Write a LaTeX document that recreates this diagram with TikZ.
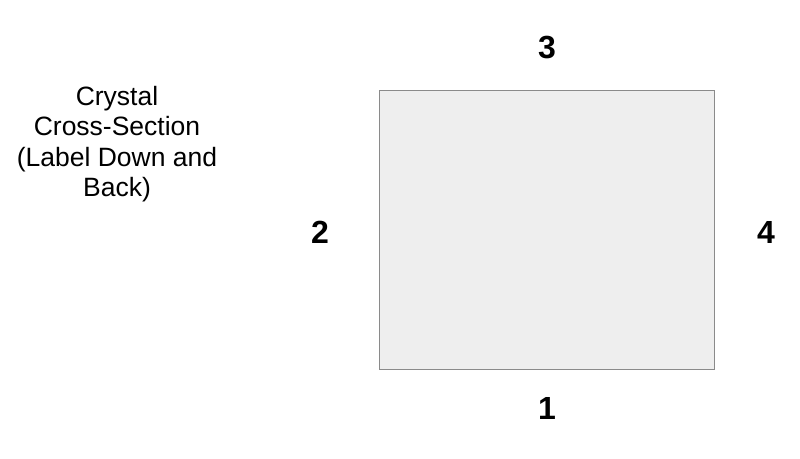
\documentclass[tikz,border=0pt]{standalone}
\usepackage{fontspec}
\setmainfont{Liberation Sans}
\definecolor{crossfill}{HTML}{EEEEEE}
\definecolor{crossedge}{HTML}{8A8A8A}

\begin{document}
\begin{tikzpicture}[x=1pt, y=-1pt,
    facenum/.style={font=\fontsize{32}{36}\selectfont\bfseries, inner sep=0pt},
    caption/.style={font=\fontsize{26.5}{30.5}\selectfont, align=center, inner sep=0pt}]
    % page frame
    \useasboundingbox (0,0) rectangle (800,458);
    % cross-section of the crystal
    \draw[crossedge, fill=crossfill, line width=1pt] (379,90) rectangle (714,369);
    \node[facenum] (face3) at (547,48) {3};
    \node[facenum] (face2) at (320,232) {2};
    \node[facenum] (face4) at (766,232) {4};
    \node[facenum] (face1) at (547,408) {1};
    \node[caption] (title) at (117,144) {Crystal\\Cross-Section\\(Label Down and\\Back)};
\end{tikzpicture}
\end{document}
